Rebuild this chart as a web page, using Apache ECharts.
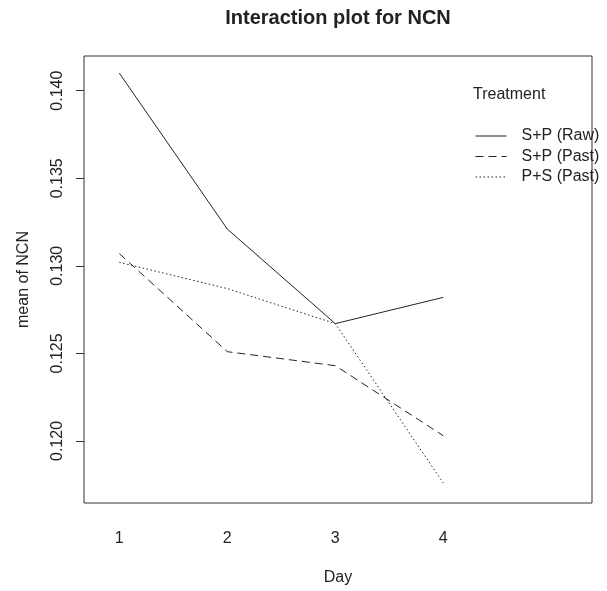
<!DOCTYPE html>
<html>
<head>
<meta charset="utf-8">
<script src="https://cdn.jsdelivr.net/npm/echarts@6/dist/echarts.min.js"></script>
<style>
  html, body { margin: 0; padding: 0; background: #fff; }
  #chart { width: 607px; height: 591px; }
</style>
</head>
<body>
<div id="chart"></div>
<script>
const days = [1, 2, 3, 4];
const treatments = ["S+P (Raw)", "S+P (Past)", "P+S (Past)"];
const rawSP = [0.1410, 0.1321, 0.1267, 0.1282];
const pastSP = [0.1307, 0.1251, 0.1243, 0.1203];
const pastPS = [0.1302, 0.1287, 0.1267, 0.1176];
const yTicks = [0.120, 0.125, 0.130, 0.135, 0.140];

const font = "Liberation Sans";
const ink = "#222";

function pairs(vals) {
  return days.map((d, i) => [d, vals[i]]);
}

const chart = echarts.init(document.getElementById("chart"));
const option = {
  animation: false,
  title: [
    {
      text: "Interaction plot for NCN",
      left: 338,
      textAlign: "center",
      top: 8,
      padding: 0,
      textStyle: { fontFamily: font, fontSize: 20, fontWeight: "bold", color: ink },
    },
    {
      text: "Treatment",
      left: 473,
      top: 87,
      padding: 0,
      textStyle: { fontFamily: font, fontSize: 16, fontWeight: "normal", color: ink },
    },
  ],
  legend: {
    orient: "vertical",
    left: 475,
    top: 126,
    padding: 0,
    itemWidth: 31,
    itemHeight: 14,
    itemGap: 0.5,
    data: treatments,
    itemStyle: { opacity: 0 },
    lineStyle: { width: 1 },
    textStyle: {
      fontFamily: font,
      fontSize: 16,
      color: ink,
      lineHeight: 20,
      padding: [0, 0, 0, 10],
    },
  },
  grid: {
    left: 84,
    right: 15,
    top: 56,
    bottom: 88,
    show: true,
    borderColor: "#333",
    borderWidth: 1,
  },
  xAxis: {
    type: "value",
    min: 0.673,
    max: 5.377,
    name: "Day",
    nameLocation: "middle",
    nameGap: 67,
    nameTextStyle: { fontFamily: font, fontSize: 16, color: ink },
    axisLine: { show: false },
    axisTick: { show: false },
    splitLine: { show: false },
    axisLabel: {
      customValues: days,
      margin: 28,
      fontFamily: font,
      fontSize: 16,
      color: ink,
    },
  },
  yAxis: {
    type: "value",
    min: 0.11646,
    max: 0.14198,
    name: "mean of NCN",
    nameLocation: "middle",
    nameGap: 52,
    nameTextStyle: { fontFamily: font, fontSize: 16, color: ink },
    axisLine: { show: false },
    splitLine: { show: false },
    axisTick: {
      show: true,
      customValues: yTicks,
      length: 8,
      lineStyle: { color: "#333", width: 1 },
    },
    axisLabel: {
      customValues: yTicks,
      rotate: 90,
      margin: 18,
      fontFamily: font,
      fontSize: 16,
      color: ink,
      formatter: (v) => v.toFixed(3),
    },
  },
  series: [
    {
      name: treatments[0],
      type: "line",
      data: pairs(rawSP),
      symbol: "none",
      lineStyle: { color: ink, width: 1, type: "solid" },
      itemStyle: { color: ink },
    },
    {
      name: treatments[1],
      type: "line",
      data: pairs(pastSP),
      symbol: "none",
      lineStyle: { color: ink, width: 1, type: [8, 5] },
      itemStyle: { color: ink },
    },
    {
      name: treatments[2],
      type: "line",
      data: pairs(pastPS),
      symbol: "none",
      lineStyle: { color: ink, width: 1, type: [1.5, 2.5] },
      itemStyle: { color: ink },
    },
  ],
};
chart.setOption(option);
window.addEventListener("resize", function () {
  chart.resize();
});
</script>
</body>
</html>
